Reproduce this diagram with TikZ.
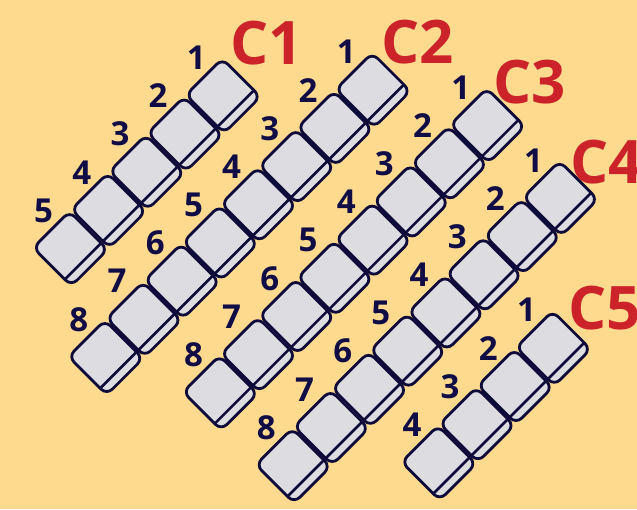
\documentclass[tikz,border=0pt]{standalone}
\usepackage{fontspec}
\setmainfont{Open Sans}
\usetikzlibrary{calc}
\definecolor{bgcol}{RGB}{254,218,143}
\definecolor{keyfill}{RGB}{221,221,225}
\definecolor{keyline}{RGB}{14,10,58}
\definecolor{numcol}{RGB}{16,12,70}
\definecolor{redcol}{RGB}{204,34,42}
\tikzset{
  keybox/.style={draw=keyline, fill=keyfill, line width=2.8pt, rounded corners=8pt,
    minimum width=51.5pt, minimum height=54pt, inner sep=0pt, outer sep=0pt, transform shape},
  stripline/.style={draw=keyline, line width=2.6pt},
  numlabel/.style={text=numcol, font=\fontsize{33}{33}\selectfont\bfseries, inner sep=0pt},
  clabel/.style={text=redcol, font=\fontsize{60}{60}\selectfont\bfseries, inner sep=0pt}
}
\begin{document}
\begin{tikzpicture}[x=1pt,y=1pt]
\useasboundingbox (0,0) rectangle (637,509);
\fill[bgcol] (0,0) rectangle (637,509);
\begin{scope}[shift={(0,509)}, rotate=45]
\foreach \r/\U/\V/\n in {1/90/-225.6/5, 2/200/-327.6/8, 3/256/-433.6/8, 4/256/-536.6/8, 5/145/-637.6/4} {
  \foreach \k in {1,...,\n} {
    \pgfmathsetmacro\uc{\U-(\k-1)*54}
    \node[keybox] (k\r-\k) at (\uc,\V) {};
    \draw[stripline] ($(k\r-\k.south west)!0.17!(k\r-\k.north west)$) -- ($(k\r-\k.south east)!0.17!(k\r-\k.north east)$);
    \pgfmathsetmacro\ul{\uc+8}
    \pgfmathsetmacro\vl{\V+46}
    \node[numlabel] (l\r-\k) at (\ul,\vl) {\k};
  }
}
\end{scope}
\node[clabel] (c1) at (267,466) {C1};
\node[clabel] (c2) at (418,467) {C2};
\node[clabel] (c3) at (530,427) {C3};
\node[clabel] (c4) at (607,347) {C4};
\node[clabel] (c5) at (605,201) {C5};
\end{tikzpicture}
\end{document}
